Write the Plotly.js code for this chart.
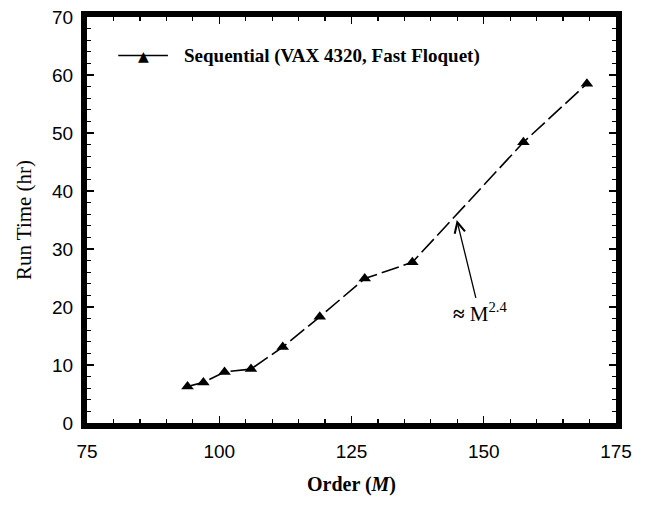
<!DOCTYPE html>
<html>
<head>
<meta charset="utf-8">
<script src="https://cdn.plot.ly/plotly-3.0.1.min.js"></script>
<style>html,body{margin:0;padding:0;background:#fff;}#chart{width:646px;height:505px;}</style>
</head>
<body>
<div id="chart"></div>
<script>
// Data
const order = [94, 97, 101, 106, 112, 119, 127.5, 136.5, 157.5, 169.5];
const runTime = [6.3, 7.0, 8.8, 9.3, 13.1, 18.3, 24.9, 27.7, 48.4, 58.5];
const seriesName = "Sequential (VAX 4320, Fast Floquet)";
const xTicks = [75, 100, 125, 150, 175];
const yTicks = [0, 10, 20, 30, 40, 50, 60, 70];
const fitLabel = "<b>≈</b> M<sup>2.4</sup>";
const fitArrowTip = [144.9, 35];
const fitLabelPos = [149.2, 19];

const serif = 'Liberation Serif, Times New Roman, serif';
const sans = 'Liberation Sans, Arial, sans-serif';

const trace = {
  x: order, y: runTime, name: seriesName,
  type: 'scatter', mode: 'lines+markers', showlegend: false,
  line: {color: '#000', width: 1.6, dash: '18px,5px'},
  marker: {symbol: 'triangle-up', size: 11, color: '#000'}
};

const axisCommon = {
  showgrid: false, zeroline: false,
  showline: true, linecolor: '#000', linewidth: 6, mirror: 'ticks',
  ticks: 'inside', ticklen: 7, tickwidth: 1.2, tickcolor: '#000',
  tickfont: {family: sans, size: 19, color: '#000'}
};

// manual legend (paper coordinates)
const legY = 0.905;
const layout = {
  width: 646, height: 505,
  margin: {l: 87, r: 30, t: 17, b: 82},
  paper_bgcolor: '#fff', plot_bgcolor: '#fff',
  showlegend: false,
  xaxis: Object.assign({}, axisCommon, {
    range: [75, 175], tickvals: xTicks, ticktext: xTicks.map(String),
    ticklabelstandoff: 6,
    minor: {dtick: 5, ticks: 'inside', ticklen: 4, tickcolor: '#000'},
    title: {text: '<b>Order (<i>M</i>)</b>', standoff: 18,
      font: {family: serif, size: 20, color: '#000'}}
  }),
  yaxis: Object.assign({}, axisCommon, {
    range: [0, 70], tickvals: yTicks, ticktext: yTicks.map(String),
    ticklabelstandoff: 4,
    minor: {dtick: 2, ticks: 'inside', ticklen: 4, tickcolor: '#000'},
    title: {text: 'Run Time (hr)', standoff: 17,
      font: {family: serif, size: 21, color: '#000'}}
  }),
  shapes: [{
    type: 'line', xref: 'paper', yref: 'paper',
    x0: 0.059, x1: 0.153, y0: legY, y1: legY,
    line: {color: '#000', width: 1.4}
  }],
  annotations: [
    {xref: 'paper', yref: 'paper', x: 0.106, y: legY, text: '▲', showarrow: false,
     xanchor: 'center', yanchor: 'middle', font: {family: 'DejaVu Sans', size: 14, color: '#000'}},
    {xref: 'paper', yref: 'paper', x: 0.18, y: legY, text: '<b>' + seriesName + '</b>', showarrow: false,
     xanchor: 'left', yanchor: 'middle', font: {family: serif, size: 19, color: '#000'}},
    {x: fitArrowTip[0], y: fitArrowTip[1], xref: 'x', yref: 'y',
     ax: fitLabelPos[0], ay: fitLabelPos[1], axref: 'x', ayref: 'y',
     text: fitLabel, showarrow: true, arrowhead: 5, arrowsize: 1.6, arrowwidth: 1.3, arrowcolor: '#000',
     font: {family: serif, size: 21, color: '#000'}}
  ]
};

Plotly.newPlot('chart', [trace], layout, {displayModeBar: false, staticPlot: true});
</script>
</body>
</html>
